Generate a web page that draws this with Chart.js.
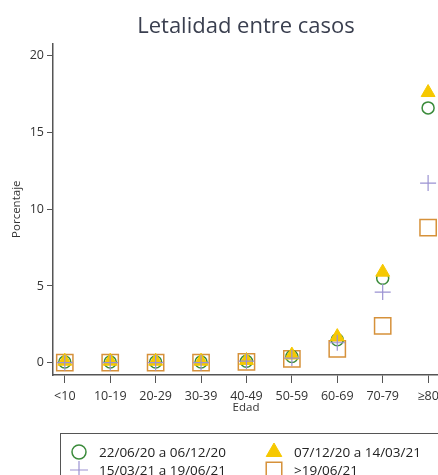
<!DOCTYPE html>
<html>
<head>
<meta charset="utf-8">
<script src="https://cdn.jsdelivr.net/npm/chart.js@4/dist/chart.umd.min.js"></script>
<style>
  html, body { margin: 0; padding: 0; background: #fff; overflow: hidden; }
  #wrap { position: relative; width: 438px; height: 475px; overflow: hidden; }
  #box { position: absolute; left: 0; top: 0; width: 492px; height: 475px; }
  #legend {
    position: absolute; left: 60px; top: 433px; width: 420px; height: 60px;
    border: 1px solid #555; box-sizing: border-box;
    font-family: "Open Sans", sans-serif; font-size: 13.5px; color: #222;
  }
  .item { position: absolute; display: flex; align-items: center; height: 18px; }
  .item canvas { margin-right: 8px; }
</style>
</head>
<body>
<div id="wrap">
  <div id="box"><canvas id="chart" width="492" height="475"></canvas></div>
  <div id="legend"></div>
</div>
<script>
const ageGroups = ['<10', '10-19', '20-29', '30-39', '40-49', '50-59', '60-69', '70-79', '≥80'];
const yTicks = [0, 5, 10, 15, 20];

const period1 = [0.05, 0.05, 0.05, 0.05, 0.1, 0.4, 1.5, 5.5, 16.6];   // 22/06/20 a 06/12/20
const period2 = [0.1, 0.1, 0.1, 0.1, 0.15, 0.5, 1.7, 5.9, 17.6];     // 07/12/20 a 14/03/21
const period3 = [0, 0, 0, 0, 0.1, 0.3, 1.3, 4.6, 11.7];              // 15/03/21 a 19/06/21
const period4 = [0, 0, 0, 0, 0.05, 0.25, 0.9, 2.4, 8.8];             // >19/06/21

const toPoints = arr => arr.map((v, i) => ({ x: i, y: v }));

// order: lower number is drawn on top
const series = [
  { label: '22/06/20 a 06/12/20', data: period1, style: 'circle', r: 6, color: '#3b8b3b', fill: 'rgba(0,0,0,0)', bw: 1.5, order: 3 },
  { label: '07/12/20 a 14/03/21', data: period2, style: 'triangle', r: 8, color: '#f6c800', fill: '#f6c800', bw: 1, order: 2 },
  { label: '15/03/21 a 19/06/21', data: period3, style: 'cross', r: 8, color: '#9b92d2', fill: 'rgba(0,0,0,0)', bw: 1.2, order: 1 },
  { label: '>19/06/21', data: period4, style: 'rect', r: 11.5, color: '#d6913a', fill: 'rgba(0,0,0,0)', bw: 1.5, order: 4 }
];

const txt = '#333';
const font = { family: '"Open Sans", sans-serif', size: 12.5 };

new Chart(document.getElementById('chart'), {
  type: 'scatter',
  data: {
    datasets: series.map(s => ({
      label: s.label,
      data: toPoints(s.data),
      pointStyle: s.style,
      pointRadius: s.r,
      pointHoverRadius: s.r,
      borderColor: s.color,
      backgroundColor: s.fill,
      borderWidth: s.bw,
      order: s.order
    }))
  },
  options: {
    responsive: false,
    animation: false,
    events: [],
    layout: { padding: { left: 0, right: 53, top: 0, bottom: 50 } },
    plugins: {
      legend: { display: false },
      tooltip: { enabled: false },
      title: {
        display: true,
        fullSize: false,
        text: 'Letalidad entre casos',
        color: '#3a3f4f',
        font: { family: '"Open Sans", sans-serif', size: 22, weight: 'normal' },
        padding: { top: 14, bottom: 3 }
      }
    },
    scales: {
      x: {
        type: 'linear',
        min: -0.26,
        max: 8.24,
        afterBuildTicks: s => { s.ticks = ageGroups.map((_, i) => ({ value: i })); },
        afterFit: s => { s.height = 50; },
        ticks: { color: txt, font, padding: 6, maxRotation: 0, autoSkip: false,
                 callback: v => ageGroups[v] },
        grid: { display: true, drawOnChartArea: false, tickLength: 8, color: '#555', tickWidth: 1 },
        border: { display: true, color: '#555', width: 1.5 },
        title: { display: true, text: 'Edad', color: txt, font: { family: '"Open Sans", sans-serif', size: 11.5 },
                 padding: { top: 0, bottom: 10 } }
      },
      y: {
        min: -0.8,
        max: 20.8,
        afterBuildTicks: s => { s.ticks = yTicks.map(v => ({ value: v })); },
        afterFit: s => { s.width = 53; },
        ticks: { color: txt, font, padding: 3 },
        grid: { display: true, drawOnChartArea: false, tickLength: 6, color: '#555', tickWidth: 1 },
        border: { display: true, color: '#555', width: 1.5 },
        title: { display: true, text: 'Porcentaje', color: txt, font: { family: '"Open Sans", sans-serif', size: 11.5 },
                 padding: { top: 10, bottom: 0 } }
      }
    }
  }
});

// legend, two columns like the original
const legend = document.getElementById('legend');
const slots = [[6, 9], [201, 9], [6, 27], [201, 27]];
series.forEach((s, k) => {
  const item = document.createElement('div');
  item.className = 'item';
  item.style.left = slots[k][0] + 'px';
  item.style.top = slots[k][1] + 'px';
  const c = document.createElement('canvas');
  c.width = 24; c.height = 18;
  const ctx = c.getContext('2d');
  ctx.strokeStyle = s.color;
  ctx.fillStyle = s.fill;
  ctx.lineWidth = s.bw;
  Chart.helpers.drawPoint(ctx, { pointStyle: s.style, radius: s.style === 'rect' ? 11 : s.r + 1, borderWidth: s.bw, rotation: 0 }, 12, 9);
  const t = document.createElement('span');
  t.textContent = s.label;
  item.appendChild(c);
  item.appendChild(t);
  legend.appendChild(item);
});
</script>
</body>
</html>
